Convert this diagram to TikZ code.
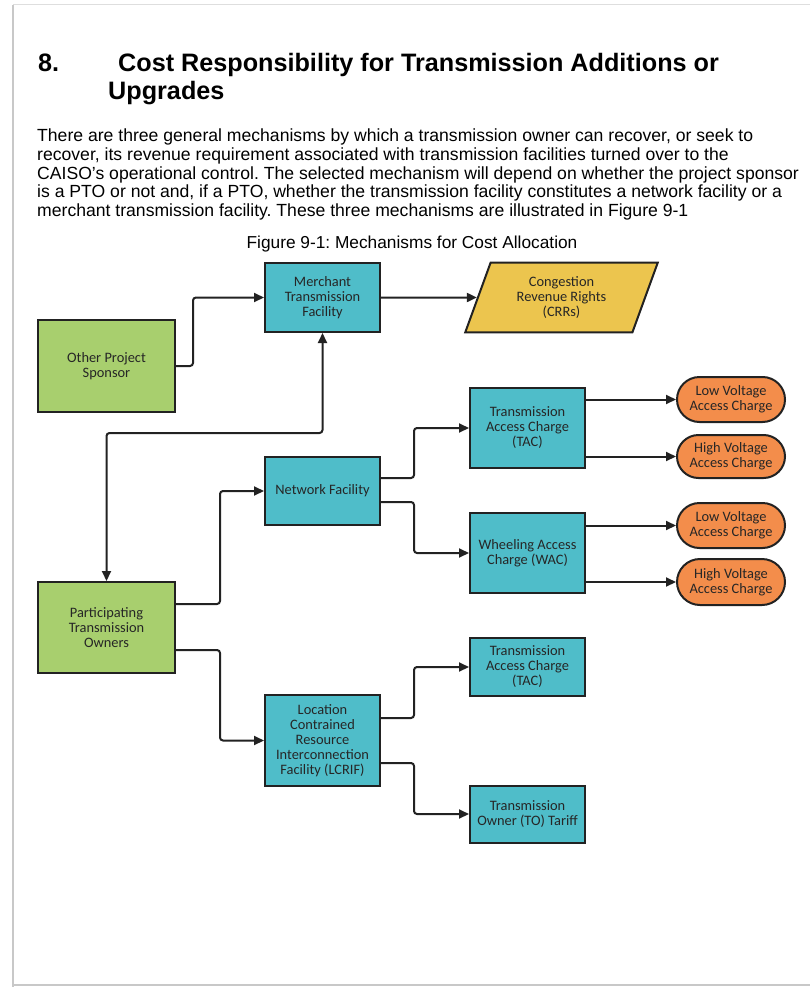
\documentclass[tikz,border=0pt]{standalone}
\usepackage{fontspec}
\setmainfont{Liberation Sans}
\newfontfamily\boxfont{Carlito}
\usetikzlibrary{shapes.geometric, shapes.misc, arrows.meta, positioning, calc}
\definecolor{facteal}{RGB}{79, 189, 201}
\definecolor{ownergreen}{RGB}{168, 207, 110}
\definecolor{chargeorange}{RGB}{243, 141, 75}
\definecolor{crryellow}{RGB}{236, 197, 78}
\definecolor{edgedark}{RGB}{34, 34, 34}
\definecolor{pagegray}{RGB}{200, 200, 200}
\frenchspacing
\tikzset{
    box/.style={
        rectangle, draw=edgedark, line width=2pt, fill=facteal,
        text=black!85, font=\boxfont\fontsize{14.4}{15}\selectfont,
        align=center, minimum width=115pt, inner sep=2pt
    },
    greenbox/.style={box, fill=ownergreen, minimum width=137pt},
    chargebox/.style={box, rounded rectangle, fill=chargeorange, minimum width=112pt},
    crrbox/.style={box, trapezium, trapezium left angle=70, trapezium right angle=110, fill=crryellow},
    arrow/.style={-{Triangle[length=10pt, width=9pt]}, line width=2pt, color=edgedark, rounded corners=3pt},
    dblarrow/.style={arrow, {Triangle[length=10pt, width=9pt]}-{Triangle[length=10pt, width=9pt]}},
    heading/.style={font=\bfseries\fontsize{25.2}{28}\selectfont, anchor=base west, inner sep=0pt},
    bodytext/.style={font=\fontsize{17.6}{18.8}\selectfont, inner sep=0pt},
}
\begin{document}
\begin{tikzpicture}[x=1pt, y=-1pt]
    \useasboundingbox (0,0) rectangle (810,987);
    % page
    \fill[white] (0,0) rectangle (810,987);
    \draw[pagegray!60, line width=1pt] (13,5) -- (810,5);
    \draw[pagegray, line width=2pt] (13,5) -- (13,987);
    \draw[pagegray, line width=2pt] (13,985) -- (810,985);

    % heading and text
    \node[heading] (num) at (38,72) {8.};
    \node[heading] (title1) at (118,72) {Cost Responsibility for Transmission Additions or};
    \node[heading] (title2) at (108,100) {Upgrades};
    \node[bodytext, anchor=north west, align=left] (para) at (37,128.5) {There are three general mechanisms by which a transmission owner can recover, or seek to\\
        recover, its revenue requirement associated with transmission facilities turned over to the\\
        CAISO's operational control. The selected mechanism will depend on whether the project sponsor\\
        is a PTO or not and, if a PTO, whether the transmission facility constitutes a network facility or a\\
        merchant transmission facility. These three mechanisms are illustrated in Figure 9-1};
    \node[bodytext, font=\fontsize{17.3}{19}\selectfont] (caption) at (412,244) {Figure 9-1: Mechanisms for Cost Allocation};

    % boxes
    \node[greenbox, minimum height=92pt] (sponsor) at (106.5,366) {Other Project\\Sponsor};
    \node[greenbox, minimum height=91pt] (pto) at (106.5,627.5) {Participating\\Transmission\\Owners};
    \node[box, minimum height=69pt] (merchant) at (322.5,297.5) {Merchant\\Transmission\\Facility};
    \node[crrbox, minimum height=69pt, minimum width=193pt] (crr) at (561.5,297.5) {Congestion\\Revenue Rights\\(CRRs)};
    \node[box, minimum height=68pt] (network) at (322.5,491) {Network Facility};
    \node[box, minimum height=91pt] (lcrif) at (322.5,740.5) {Location\\Contrained\\Resource\\Interconnection\\Facility (LCRIF)};
    \node[box, minimum height=80pt] (tac) at (527.5,428) {Transmission\\Access Charge\\(TAC)};
    \node[box, minimum height=80pt] (wac) at (527.5,553) {Wheeling Access\\Charge (WAC)};
    \node[box, minimum height=58pt] (lcriftac) at (527.5,667) {Transmission\\Access Charge\\(TAC)};
    \node[box, minimum height=57pt] (tariff) at (527.5,814) {Transmission\\Owner (TO) Tariff};
    \node[chargebox, minimum height=45pt] (taclow) at (731,399.5) {Low Voltage\\Access Charge};
    \node[chargebox, minimum height=43pt] (tachigh) at (731,456.5) {High Voltage\\Access Charge};
    \node[chargebox, minimum height=45pt] (waclow) at (731,525.5) {Low Voltage\\Access Charge};
    \node[chargebox, minimum height=46pt] (wachigh) at (731,582) {High Voltage\\Access Charge};

    % connectors
    \coordinate (ptobend) at (322.5,433);
    \draw[arrow] (sponsor.east) -- ++(17,0) |- (merchant);
    \draw[arrow] (merchant) -- (crr);
    \draw[dblarrow] (pto.north) |- (ptobend) -- (merchant.south);
    \draw[arrow] ([yshift=23.5pt]pto.east) -- ++(44,0) |- (network);
    \draw[arrow] ([yshift=-22.5pt]pto.east) -- ++(44,0) |- (lcrif);
    \draw[arrow] ([yshift=13pt]network.east) -- ++(33,0) |- (tac);
    \draw[arrow] ([yshift=-11pt]network.east) -- ++(33,0) |- (wac);
    \draw[arrow] ([yshift=22.5pt]lcrif.east) -- ++(33,0) |- (lcriftac);
    \draw[arrow] ([yshift=-22.5pt]lcrif.east) -- ++(33,0) |- (tariff);
    \draw[arrow] (tac.east |- taclow) -- (taclow);
    \draw[arrow] (tac.east |- tachigh) -- (tachigh);
    \draw[arrow] (wac.east |- waclow) -- (waclow);
    \draw[arrow] (wac.east |- wachigh) -- (wachigh);
\end{tikzpicture}
\end{document}
